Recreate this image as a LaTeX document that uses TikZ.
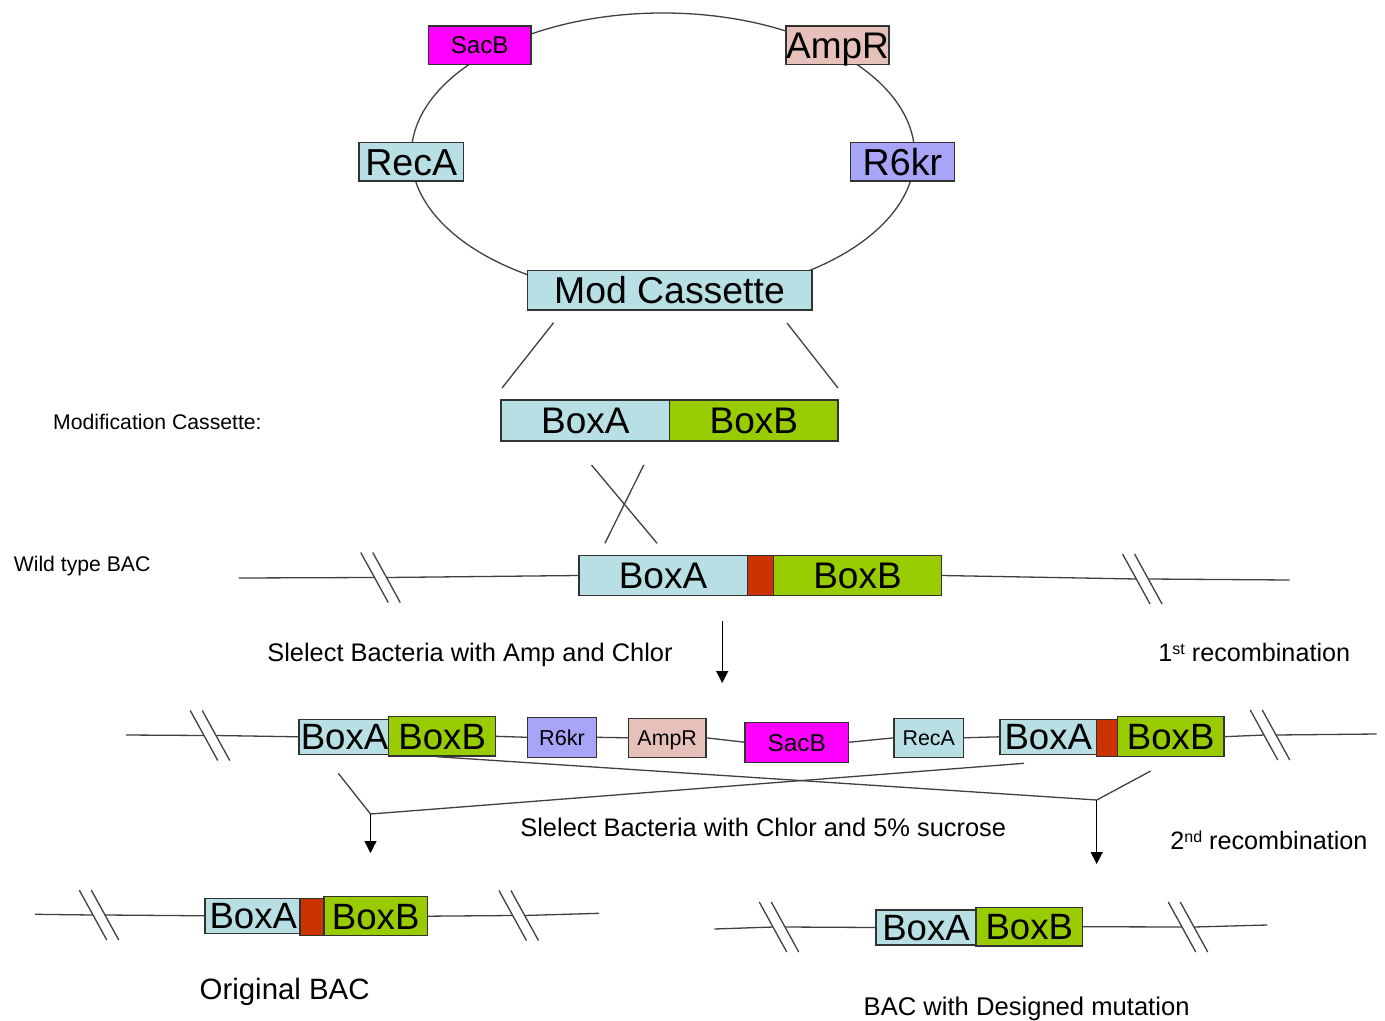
\documentclass[tikz,border=0pt]{standalone}
\usepackage{fontspec}
\setmainfont{Liberation Sans}
\usetikzlibrary{arrows.meta,shapes.geometric}
\newcommand\fsz[1]{\fontsize{#1pt}{#1pt}\selectfont}
\newcommand\supr[1]{\raisebox{3.2pt}{\fsz{8}#1}}
\definecolor{cyanbox}{RGB}{184,224,228}
\definecolor{greenbox}{RGB}{153,204,0}
\definecolor{redbox}{RGB}{204,51,0}
\definecolor{magbox}{RGB}{255,0,255}
\definecolor{ampbox}{RGB}{229,193,185}
\definecolor{rsixbox}{RGB}{168,164,248}
\definecolor{linegray}{RGB}{64,64,64}
\definecolor{edgegray}{RGB}{50,50,50}
\tikzset{
  ln/.style={draw=linegray, line width=0.65pt},
  bx/.style={draw=edgegray, line width=0.65pt, inner sep=0pt, outer sep=0pt},
  tf/.style={font=\fsz{#1}, text height=#1*0.716pt, text depth=0pt},
  lbl/.style={inner sep=0pt, anchor=base west},
  arr/.style={draw=black, line width=0.65pt, -{Triangle[length=6pt,width=6pt]}},
}
\newcommand\brkmark[3]{%
  \coordinate (#1a) at ({#2-6},#3);
  \coordinate (#1b) at ({#2+6},#3);
  \draw[ln, shift={(#1a)}] (-13.75,-25) -- (13.75,25);
  \draw[ln, shift={(#1b)}] (-13.75,-25) -- (13.75,25);
}
\begin{document}
\begin{tikzpicture}[x=0.5pt,y=-0.5pt]
\fill[white] (0,0) rectangle (1385,1021);
\useasboundingbox (0,0) rectangle (1385,1021);

% ---------- plasmid ----------
\node[ln, draw, ellipse, minimum width=251.7pt, minimum height=142pt, inner sep=0pt] (plasmid) at (663,155) {};
\node[bx, fill=magbox,  minimum width=51.4pt,  minimum height=19.15pt, tf=12.1] (sacT) at (479.7,45.2) {SacB};
\node[bx, fill=ampbox,  minimum width=51.45pt, minimum height=19.15pt, tf=18.5] (ampT) at (837.5,45.2) {AmpR};
\node[bx, fill=cyanbox, minimum width=52.2pt,  minimum height=19.15pt, tf=18.8] (recT) at (411.3,161.8) {RecA};
\node[bx, fill=rsixbox, minimum width=51.8pt,  minimum height=19.15pt, tf=18.8] (rsixT) at (902.4,161.8) {R6kr};
\node[bx, fill=cyanbox, minimum width=142.35pt, minimum height=19.65pt, tf=18.7] (modC) at (669.5,290.3) {Mod Cassette};

\coordinate (mlt) at (553.6,322.7); \coordinate (mlb) at (502,388);
\coordinate (mrt) at (787,323);    \coordinate (mrb) at (838,388);
\draw[ln] (mlt) -- (mlb);
\draw[ln] (mrt) -- (mrb);

% ---------- modification cassette ----------
\node[lbl, font=\fsz{10.6}] (modlbl) at (52.7,429.3) {Modification Cassette:};
\node[bx, fill=cyanbox,  minimum width=84.35pt, minimum height=20.5pt, tf=18.5] (mA) at (585.3,420.5) {BoxA};
\node[bx, fill=greenbox, minimum width=84.2pt,  minimum height=20.5pt, tf=18.5] (mB) at (753.8,420.5) {BoxB};

\coordinate (xa1) at (591.5,465); \coordinate (xa2) at (657.1,543.3);
\coordinate (xb1) at (643.8,465); \coordinate (xb2) at (604.9,543.3);
\draw[ln] (xa1) -- (xa2);
\draw[ln] (xb1) -- (xb2);

% ---------- wild type BAC ----------
\node[lbl, font=\fsz{10.6}] (wlbl) at (13.4,571.7) {Wild type BAC};
\node[bx, fill=cyanbox,  minimum width=84.15pt, minimum height=20.1pt, tf=18.5] (wA) at (663,575.5) {BoxA};
\node[bx, fill=redbox,   minimum width=13.05pt, minimum height=20.1pt] (wR) at (760.3,575.5) {};
\node[bx, fill=greenbox, minimum width=84.15pt, minimum height=20.1pt, tf=18.5] (wB) at (857.5,575.5) {BoxB};
\coordinate (wl) at (238.8,578);
\coordinate (wr) at (1289.6,580);
\brkmark{bwl}{380.5}{577.5}
\brkmark{bwr}{1142.3}{579}
\draw[ln] (wl) -- (bwla);
\draw[ln] (bwlb) -- (wA.west);
\draw[ln] (wB.east) -- (bwra);
\draw[ln] (bwrb) -- (wr);

\coordinate (a0s) at (722.2,620.7); \coordinate (a0e) at (722.2,683);
\draw[arr] (a0s) -- (a0e);
\node[lbl, font=\fsz{12.7}] (sel1) at (267,661) {Slelect Bacteria with Amp and Chlor};
\node[lbl, font=\fsz{12.6}] (rec1) at (1158,661) {1\supr{st} recombination};

% ---------- cointegrate ----------
\node[bx, fill=cyanbox,  minimum width=45.5pt,  minimum height=17.5pt, tf=18.3] (cA) at (344.5,736.8) {BoxA};
\node[bx, fill=greenbox, minimum width=53.5pt,  minimum height=19.65pt, tf=18.3] (cB) at (442.2,736.3) {BoxB};
\node[bx, fill=rsixbox,  minimum width=34.7pt,  minimum height=20pt, tf=10.8] (cR6) at (562,737.3) {R6kr};
\node[bx, fill=ampbox,   minimum width=38.85pt, minimum height=19.5pt, tf=10.7] (cAmp) at (667.2,737.8) {AmpR};
\node[bx, fill=magbox,   minimum width=51.65pt, minimum height=20pt, tf=12.2] (cSac) at (796.7,742.3) {SacB};
\node[bx, fill=cyanbox,  minimum width=34.65pt, minimum height=19.5pt, tf=10.7] (cRec) at (928.7,737.8) {RecA};
\node[bx, fill=cyanbox,  minimum width=48.35pt, minimum height=17.35pt, tf=18.3] (cA2) at (1048.3,736.8) {BoxA};
\node[bx, fill=redbox,   minimum width=11.3pt,  minimum height=18.7pt] (cRed) at (1108,738) {};
\node[bx, fill=greenbox, minimum width=53.35pt, minimum height=20pt, tf=18.3] (cB2) at (1170.7,736.7) {BoxB};

\coordinate (cl) at (126,735);
\coordinate (cr) at (1376.7,734);
\brkmark{bcl}{210}{735.5}
\brkmark{bcr}{1270}{735}
\draw[ln] (cl) -- (bcla);
\draw[ln] (bclb) -- (cA.west);
\draw[ln] (cB.east) -- (cR6.west);
\draw[ln] (cR6.east) -- (cAmp.west);
\draw[ln] (cAmp.east) -- (cSac.west);
\draw[ln] (cSac.east) -- (cRec.west);
\draw[ln] (cRec.east) -- (cA2.west);
\draw[ln] (cB2.east) -- (bcra);
\draw[ln] (bcrb) -- (cr);

% crossing lines
\coordinate (c1s) at (436.7,756.7);
\coordinate (j2) at (1096.7,800);
\coordinate (s2) at (1150.7,771);
\coordinate (c2s) at (1024,763.3);
\coordinate (j1) at (370.5,814);
\coordinate (s1) at (338.3,773.3);
\draw[ln] (c1s) -- (j2);
\draw[ln] (s2) -- (j2);
\draw[ln] (c2s) -- (j1);
\draw[ln] (s1) -- (j1);
\coordinate (a1e) at (370.5,853);
\coordinate (a2e) at (1096.7,864);
\draw[arr] (j1) -- (a1e);
\draw[arr] (j2) -- (a2e);

\node[lbl, font=\fsz{12.7}] (sel2) at (520,836.7) {Slelect Bacteria with Chlor and 5\% sucrose};
\node[lbl, font=\fsz{12.6}] (rec2) at (1170,849.3) {2\supr{nd} recombination};

% ---------- original BAC ----------
\node[bx, fill=cyanbox,  minimum width=48.35pt, minimum height=17.5pt, tf=18.3] (oA) at (253.3,915.8) {BoxA};
\node[bx, fill=redbox,   minimum width=12.5pt,  minimum height=18.7pt] (oR) at (312.5,917) {};
\node[bx, fill=greenbox, minimum width=51.65pt, minimum height=19.5pt, tf=18.3] (oB) at (375.7,916.2) {BoxB};
\coordinate (ol) at (35,914.3);
\coordinate (orr) at (598.8,913.3);
\brkmark{bol}{99}{915}
\brkmark{bor}{518.7}{915.5}
\draw[ln] (ol) -- (bola);
\draw[ln] (bolb) -- (oA.west);
\draw[ln] (oB.east) -- (bora);
\draw[ln] (borb) -- (orr);
\node[lbl, font=\fsz{14.7}] (olbl) at (199.3,999) {Original BAC};

% ---------- designed mutation ----------
\node[bx, fill=cyanbox,  minimum width=50pt,    minimum height=17.5pt, tf=18.3] (dA) at (926,927.5) {BoxA};
\node[bx, fill=greenbox, minimum width=53.35pt, minimum height=19.35pt, tf=18.3] (dB) at (1029.3,926.7) {BoxB};
\coordinate (dl) at (714.4,929);
\coordinate (dr) at (1267,925);
\brkmark{bdl}{779}{927}
\brkmark{bdr}{1188}{927}
\draw[ln] (dl) -- (bdla);
\draw[ln] (bdlb) -- (dA.west);
\draw[ln] (dB.east) -- (bdra);
\draw[ln] (bdrb) -- (dr);
\node[lbl, font=\fsz{12.8}] (dlbl) at (863.3,1015) {BAC with Designed mutation};
\end{tikzpicture}
\end{document}
